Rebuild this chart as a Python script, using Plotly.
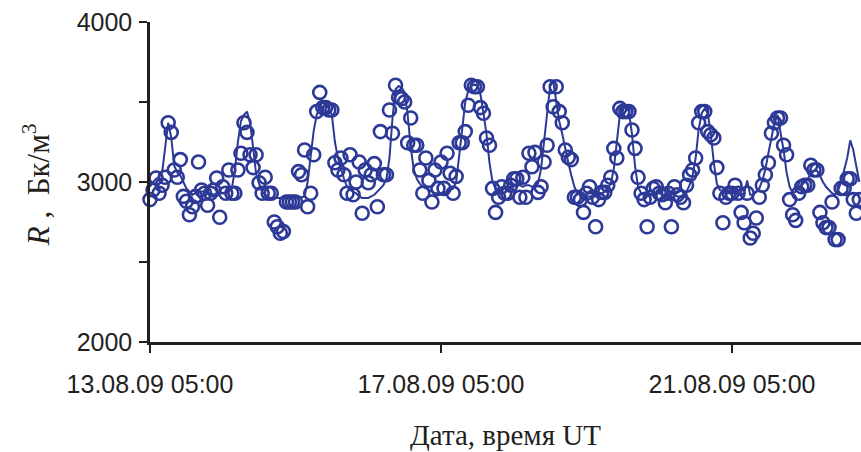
import pandas as pd
import plotly.graph_objects as go

start_time = "2009-08-13 05:00"
n_hours = 235

# Hourly measured values (circles), Бк/м³
measured = [
    2890, 2950, 3025, 2930, 2980, 3030, 3370, 3310, 3075, 3030,
    3140, 2910, 2880, 2795, 2845, 2910, 3125, 2950, 2930, 2855,
    2930, 2950, 3025, 2780, 2970, 2930, 3075, 2930, 2930, 3075,
    3180, 3370, 3310, 3170, 3090, 3170, 2995, 2930, 3030, 2930,
    2930, 2750, 2720, 2680, 2690, 2875, 2875, 2875, 2875, 3065,
    3045, 3200, 2845, 2930, 3170, 3440, 3560, 3465, 3465, 3450,
    3450, 3120, 3075, 3150, 3045, 2930, 3170, 2920, 3000, 3125,
    2805, 3075, 2995, 3045, 3115, 2845, 3315, 3045, 3045, 3450,
    3305, 3605, 3530, 3520, 3500, 3245, 3400, 3230, 3230, 3075,
    2930, 3150, 3010, 2875, 3075, 2960, 3125, 2960, 3180, 3055,
    2930, 3035, 3245, 3245, 3315, 3480, 3605, 3595, 3595, 3465,
    3430, 3275, 3230, 2960, 2810, 2905, 2970, 2930, 2930, 2980,
    3020, 3020, 2905, 3030, 2905, 3180, 3095, 3185, 2935, 2970,
    3125, 3230, 3595, 3470, 3595, 3440, 3370, 3200, 3155, 3140,
    2905, 2905, 2890, 2810, 2930, 2970, 2905, 2720, 2890, 2935,
    2935, 2980, 3030, 3210, 3150, 3460, 3440, 3440, 3440, 3325,
    3210, 3030, 2930, 2890, 2720, 2905, 2960, 2970, 2930, 2920,
    2870, 2930, 2720, 2970, 2920, 2905, 2870, 2980, 3045, 3075,
    3150, 3370, 3440, 3440, 3315, 3295, 3275, 3090, 2930, 2745,
    2905, 2930, 2930, 2980, 2930, 2810, 2745, 2930, 2650, 2680,
    2775, 2905, 2980, 3045, 3120, 3305, 3370, 3400, 3400, 3230,
    3170, 2890, 2795, 2760, 2930, 2970, 2980, 2980, 3105, 3075,
    3075, 2810, 2745, 2715, 2715, 2875, 2640, 2640, 2960, 2960,
    3020, 3020, 2890, 2805, 2890,
]

# Line series
line_vals = [
    2970, 3000, 3020, 3030, 3060, 3220, 3370, 3280, 3100, 3060,
    3040, 3000, 2960, 2940, 2920, 2930, 2940, 2940, 2940, 2930,
    2930, 2920, 2930, 2940, 2930, 2930, 2940, 2960, 3075, 3250,
    3380, 3420, 3440, 3370, 3220, 3050, 2990, 2940, 2920, 2905,
    2900, 2900, 2900, 2900, 2905, 2905, 2900, 2900, 2905, 2900,
    2905, 2910, 3000, 3150, 3320, 3420, 3470, 3500, 3480, 3460,
    3420, 3250, 3150, 3080, 3020, 2970, 2950, 2940, 2930, 2910,
    2900, 2900, 2900, 2910, 2920, 2940, 2960, 2980, 3020, 3150,
    3400, 3580, 3600, 3590, 3560, 3420, 3220, 3080, 3020, 2990,
    2970, 2960, 2950, 2940, 2930, 2930, 2930, 2930, 2940, 2950,
    2960, 3000, 3150, 3330, 3500, 3570, 3600, 3610, 3600, 3550,
    3430, 3300, 3120, 3000, 2960, 2950, 2950, 2960, 2960, 2970,
    2970, 2980, 2980, 2970, 2980, 2980, 2970, 2980, 2990, 3080,
    3250, 3450, 3600, 3630, 3500, 3380, 3300, 3200, 3120, 3040,
    2970, 2930, 2920, 2920, 2910, 2910, 2910, 2910, 2920, 2930,
    2940, 2960, 2990, 3080, 3250, 3420, 3470, 3480, 3440, 3300,
    3100, 2970, 2930, 2920, 2920, 2920, 2920, 2930, 2930, 2920,
    2920, 2920, 2930, 2920, 2910, 2910, 2920, 2940, 2980, 3040,
    3150, 3330, 3430, 3460, 3430, 3300, 3120, 2990, 2950, 2940,
    2930, 2930, 2930, 2930, 2920, 2920, 2930, 3010, 2920, 2920,
    2940, 2960, 3010, 3080, 3180, 3280, 3370, 3420, 3320, 3200,
    3060, 2970, 2930, 2940, 2960, 2980, 3000, 3020, 3050, 3070,
    3070, 3040, 3000, 2970, 2950, 2930, 2920, 2950, 3000, 3080,
    3150, 3260, 3200, 3100, 3000,
]

tick_dates = ["2009-08-13 05:00", "2009-08-17 05:00", "2009-08-21 05:00"]
tick_labels = ["13.08.09 05:00", "17.08.09 05:00", "21.08.09 05:00"]
y_tickvals = [2000, 3000, 4000]
y_ticklabels = ["2000", "3000", "4000"]

times = pd.date_range(start_time, periods=n_hours, freq="h")

color = "#2d3996"
ink = "#231f20"

fig = go.Figure()
fig.add_trace(go.Scatter(
    x=times, y=line_vals, mode="lines",
    line=dict(color=color, width=2),
    cliponaxis=False, showlegend=False, hoverinfo="skip",
))
fig.add_trace(go.Scatter(
    x=times, y=measured, mode="markers",
    marker=dict(symbol="circle-open", size=13, color=color, line=dict(width=2.6, color=color)),
    cliponaxis=False, showlegend=False,
))

fig.update_layout(
    width=861, height=452,
    margin=dict(l=150, r=0, t=22, b=110),
    plot_bgcolor="white", paper_bgcolor="white",
    font=dict(family="Liberation Sans, Arial, sans-serif", size=25, color=ink),
    xaxis=dict(
        range=["2009-08-13 05:00", "2009-08-22 23:33"],
        tickvals=tick_dates, ticktext=tick_labels,
        showline=True, linecolor=ink, linewidth=2.5,
        ticks="outside", ticklen=8, tickwidth=2, tickcolor=ink,
        showgrid=False, zeroline=False, ticklabelstandoff=10,
    ),
    yaxis=dict(
        range=[2000, 4000],
        tickvals=y_tickvals, ticktext=y_ticklabels,
        showline=True, linecolor=ink, linewidth=2.5,
        ticks="outside", ticklen=8, tickwidth=2, tickcolor=ink,
        showgrid=False, zeroline=False, ticklabelstandoff=2,
        minor=dict(dtick=500, ticks="outside", ticklen=8, tickwidth=2,
                   tickcolor=ink, showgrid=False),
    ),
    annotations=[
        dict(
            text="<i>R</i> ,  Бк/м<sup>3</sup>",
            xref="paper", yref="paper", x=0, y=0.49,
            xanchor="center", yanchor="middle", xshift=-114,
            textangle=-90, showarrow=False,
            font=dict(family="Liberation Serif, Times New Roman, serif", size=31, color=ink),
        ),
        dict(
            text="Дата, время UT",
            xref="paper", yref="paper", x=0.5, y=0,
            xanchor="center", yanchor="middle", yshift=-93,
            showarrow=False,
            font=dict(family="Liberation Serif, Times New Roman, serif", size=29, color=ink),
        ),
    ],
)

# remove the page's default body margin so the figure fills the window exactly
fig.write_html(
    "out.html",
    config={"displayModeBar": False},
    post_script="document.body.style.margin='0px';document.body.style.overflow='hidden';",
)
